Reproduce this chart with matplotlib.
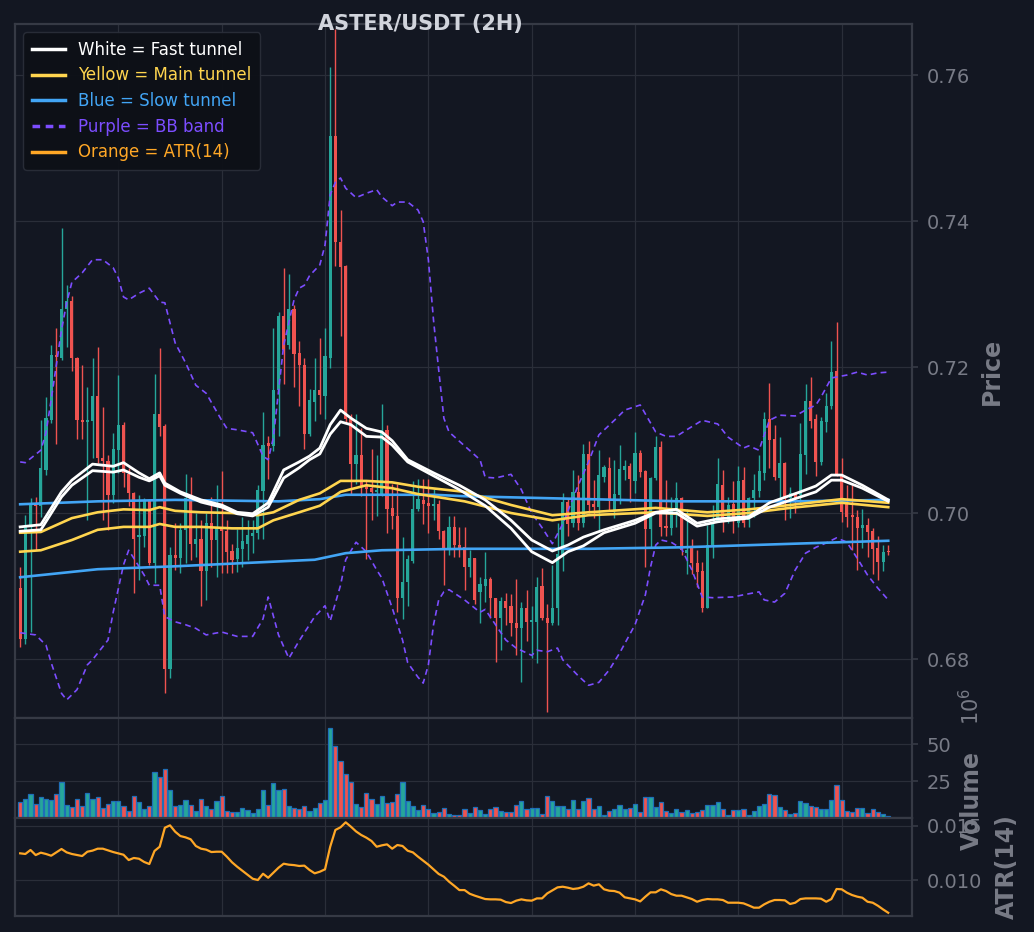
import numpy as np
import matplotlib
matplotlib.use("Agg")
import matplotlib.pyplot as plt
from matplotlib.lines import Line2D
from matplotlib.ticker import FormatStrFormatter

# ---------------- data ----------------
opens = [
0.6897,0.6828,0.6981,0.7013,0.7009,0.7059,0.7128,0.7217,0.7213,0.7279,
0.7290,0.7212,0.7128,0.7125,0.7126,0.7160,0.7075,0.7071,0.7025,0.7086,
0.7121,0.7054,0.7027,0.6967,0.6968,0.7016,0.6931,0.7136,0.7119,0.6787,
0.6943,0.6938,0.6977,0.7020,0.6958,0.6964,0.6920,0.6986,0.6963,0.6979,
0.6976,0.6948,0.6937,0.6951,0.6958,0.6969,0.6973,0.7030,0.7096,0.7092,
0.7168,0.7270,0.7230,0.7279,0.7219,0.7203,0.7108,0.7152,0.7168,0.7160,
0.7212,0.7517,0.7371,0.7338,0.7129,0.7067,0.7079,0.7037,0.7034,0.7029,
0.7026,0.7114,0.7007,0.6996,0.6884,0.6905,0.6934,0.7005,0.7018,0.7014,
0.7010,0.7012,0.6975,0.6952,0.6981,0.6956,0.6953,0.6926,0.6938,0.6892,
0.6900,0.6910,0.6884,0.6856,0.6879,0.6873,0.6849,0.6842,0.6870,0.6851,
0.6851,0.6900,0.6856,0.6849,0.6870,0.6942,0.7015,0.6986,0.7029,0.6986,
0.7081,0.7012,0.7008,0.7049,0.7062,0.7004,0.7025,0.7059,0.7064,0.7044,
0.7082,0.7058,0.6978,0.7048,0.7090,0.6982,0.6979,0.7003,0.7021,0.6945,
0.6952,0.6931,0.6921,0.6870,0.6956,0.6988,0.7038,0.6990,0.7012,0.6986,
0.7045,0.6990,0.7021,0.7030,0.7055,0.7129,0.7101,0.7048,0.7068,0.7021,
0.7027,0.7025,0.7079,0.7153,0.7129,0.7070,0.7125,0.7147,0.7195,0.7051,
0.7014,0.6997,0.6995,0.6980,0.6984,0.6975,0.6952,0.6933,0.6948]

highs = [
0.6926,0.6997,0.7020,0.7022,0.7128,0.7159,0.7230,0.7253,0.7390,0.7312,
0.7297,0.7214,0.7203,0.7173,0.7212,0.7228,0.7145,0.7080,0.7110,0.7189,
0.7125,0.7062,0.7029,0.7025,0.7021,0.7019,0.7191,0.7226,0.7122,0.6954,
0.6986,0.6986,0.7054,0.7050,0.7000,0.6990,0.7000,0.7022,0.7038,0.7057,
0.6990,0.6958,0.6978,0.6995,0.6990,0.6990,0.7038,0.7138,0.7105,0.7253,
0.7275,0.7336,0.7327,0.7285,0.7236,0.7212,0.7170,0.7212,0.7240,0.7253,
0.7611,0.7663,0.7415,0.7340,0.7135,0.7135,0.7117,0.7044,0.7088,0.7079,
0.7149,0.7121,0.7040,0.7040,0.6967,0.6943,0.7044,0.7047,0.7047,0.7047,
0.7033,0.7018,0.6977,0.6996,0.6996,0.6981,0.6981,0.6949,0.6938,0.6913,
0.6947,0.6913,0.6884,0.6885,0.6890,0.6889,0.6910,0.6878,0.6894,0.6872,
0.6913,0.6924,0.6876,0.6929,0.6986,0.7027,0.7020,0.7059,0.7052,0.7095,
0.7098,0.7045,0.7086,0.7066,0.7077,0.7073,0.7093,0.7073,0.7068,0.7111,
0.7086,0.7059,0.7050,0.7105,0.7098,0.7045,0.7022,0.7043,0.7022,0.7006,
0.6965,0.6949,0.6933,0.6984,0.7011,0.7075,0.7059,0.7022,0.7044,0.7064,
0.7063,0.7022,0.7054,0.7079,0.7139,0.7178,0.7121,0.7104,0.7070,0.7035,
0.7029,0.7123,0.7177,0.7186,0.7136,0.7132,0.7164,0.7235,0.7261,0.7075,
0.7038,0.7039,0.7004,0.7005,0.6993,0.6979,0.6968,0.6956,0.6956]

lows = [
0.6817,0.6821,0.6837,0.6949,0.6995,0.7052,0.7124,0.7095,0.7210,0.7228,
0.7194,0.7102,0.7102,0.6990,0.7075,0.7068,0.6990,0.6977,0.7014,0.7055,
0.7036,0.7009,0.6890,0.6908,0.6954,0.6929,0.6904,0.7105,0.6753,0.6774,
0.6922,0.6918,0.6931,0.6936,0.6940,0.6872,0.6881,0.6926,0.6913,0.6918,
0.6918,0.6918,0.6919,0.6926,0.6935,0.6945,0.6964,0.6964,0.7047,0.7085,
0.7105,0.7177,0.7225,0.7173,0.7147,0.7088,0.7105,0.7126,0.7135,0.7129,
0.7198,0.7338,0.7242,0.7125,0.7026,0.7040,0.7023,0.6937,0.6990,0.6996,
0.7023,0.6973,0.6978,0.6864,0.6855,0.6873,0.6931,0.7003,0.6985,0.6973,
0.6990,0.6964,0.6902,0.6943,0.6940,0.6940,0.6895,0.6913,0.6876,0.6849,
0.6878,0.6856,0.6796,0.6812,0.6847,0.6832,0.6805,0.6769,0.6824,0.6801,
0.6794,0.6853,0.6728,0.6847,0.6847,0.6920,0.6968,0.6981,0.6977,0.6981,
0.7000,0.6993,0.6974,0.7043,0.7004,0.6993,0.7013,0.7045,0.7015,0.7027,
0.7050,0.6926,0.6952,0.7045,0.6968,0.6968,0.6970,0.6981,0.6942,0.6917,
0.6917,0.6899,0.6865,0.6870,0.6938,0.6988,0.6974,0.6986,0.6972,0.6981,
0.6981,0.6981,0.6995,0.7022,0.7045,0.7061,0.7045,0.7018,0.6990,0.6993,
0.7000,0.7013,0.7054,0.7116,0.7051,0.7066,0.7111,0.7143,0.7051,0.6988,
0.6981,0.6949,0.6922,0.6952,0.6940,0.6917,0.6908,0.6920,0.6942]

closes = [
0.6828,0.6982,0.7013,0.7010,0.7061,0.7130,0.7216,0.7214,0.7279,0.7290,
0.7212,0.7127,0.7125,0.7128,0.7160,0.7075,0.7071,0.7025,0.7088,0.7121,
0.7055,0.7027,0.6965,0.6970,0.7018,0.6931,0.7136,0.7118,0.6787,0.6942,
0.6939,0.6977,0.7020,0.6958,0.6964,0.6920,0.6986,0.6963,0.6979,0.6976,
0.6947,0.6936,0.6952,0.6962,0.6970,0.6973,0.7032,0.7093,0.7092,0.7168,
0.7270,0.7223,0.7279,0.7218,0.7203,0.7108,0.7155,0.7168,0.7161,0.7215,
0.7517,0.7371,0.7337,0.7129,0.7067,0.7079,0.7037,0.7033,0.7029,0.7031,
0.7114,0.7005,0.6996,0.6884,0.6905,0.6937,0.7005,0.7019,0.7012,0.7010,
0.7013,0.6975,0.6952,0.6981,0.6956,0.6952,0.6926,0.6938,0.6881,0.6903,
0.6910,0.6884,0.6856,0.6879,0.6870,0.6849,0.6842,0.6870,0.6851,0.6853,
0.6899,0.6856,0.6849,0.6870,0.6944,0.7015,0.6985,0.7029,0.6986,0.7081,
0.7011,0.7008,0.7052,0.7063,0.7016,0.7026,0.7060,0.7064,0.7047,0.7082,
0.7056,0.6978,0.7048,0.7090,0.6981,0.6980,0.7004,0.7021,0.6949,0.6949,
0.6931,0.6919,0.6870,0.6956,0.6988,0.7040,0.6990,0.7011,0.6990,0.7044,
0.6986,0.7021,0.7032,0.7058,0.7129,0.7100,0.7049,0.7068,0.7021,0.7027,
0.7021,0.7081,0.7153,0.7126,0.7070,0.7126,0.7147,0.7193,0.7051,0.7001,
0.6995,0.6994,0.6979,0.6984,0.6974,0.6951,0.6933,0.6947,0.6947]

# volume in millions
volume_m = [
11.0,12.6,16.0,9.7,14.4,12.6,12.2,16.0,24.1,9.0,
7.7,12.6,8.3,16.7,12.6,14.4,7.0,9.7,11.3,11.3,
8.3,5.0,15.1,10.6,5.9,8.3,30.9,27.5,32.9,18.7,
8.3,9.0,11.9,9.0,4.5,12.6,8.3,6.3,11.3,15.1,
5.0,4.3,4.3,6.5,5.2,3.6,5.9,18.7,9.0,23.4,
18.7,19.4,8.3,7.0,6.3,8.3,4.5,6.5,10.4,11.9,
60.6,48.9,38.7,29.5,24.1,9.7,7.7,16.7,13.1,9.7,
15.1,10.4,11.0,16.0,24.1,11.3,8.3,5.2,9.0,5.9,
3.6,4.3,6.5,
2.7,2.3,2.3,6.1,3.4,7.2,5.4,2.7,6.1,7.2,
5.0,4.1,4.1,8.6,11.7,6.1,6.8,6.8,2.7,14.9,
11.7,8.1,8.1,6.1,12.4,6.1,11.7,13.5,6.1,8.1,
2.3,4.5,6.1,9.0,6.1,6.8,9.5,3.8,14.4,14.4,
7.7,11.0,5.0,3.4,6.1,3.8,5.4,3.2,4.3,5.4,
8.8,8.8,10.8,6.1,2.0,5.6,5.6,6.1,2.0,5.0,
8.1,9.5,16.2,15.5,7.7,5.4,2.7,3.2,11.7,10.1,
8.1,7.2,6.1,6.1,12.4,22.3,12.4,5.0,3.8,6.8,
6.8,3.4,6.1,4.1,2.7,1.2]

atr14 = [
0.01247,0.01241,0.01278,0.01231,0.01253,0.01241,0.01225,0.01256,0.01287,0.01256,
0.01241,0.01231,0.01222,0.01262,0.01272,0.01290,0.01290,0.01275,0.01259,0.01247,
0.01234,0.01185,0.01204,0.01197,0.01167,0.01148,0.01269,0.01308,0.01484,0.01506,
0.01447,0.01407,0.01395,0.01377,0.01315,0.01290,0.01281,0.01259,0.01262,0.01262,
0.01216,0.01164,0.01123,0.01086,0.01049,0.01012,0.01000,0.01058,0.01021,0.01068,
0.01114,0.01151,0.01142,0.01138,0.01130,0.01133,0.01093,0.01062,0.01077,0.01099,
0.01308,0.01463,0.01488,0.01534,0.01494,0.01450,0.01417,0.01392,0.01361,0.01308,
0.01321,0.01330,0.01290,0.01324,0.01315,0.01271,0.01256,0.01216,0.01179,0.01142,
0.01099,0.01056,0.01031,0.00985,
0.00947,0.00907,0.00907,0.00873,0.00855,0.00840,0.00824,0.00821,0.00821,0.00818,
0.00796,0.00787,0.00809,0.00821,0.00812,0.00809,0.00830,0.00830,0.00876,0.00904,
0.00932,0.00938,0.00929,0.00917,0.00923,0.00938,0.00969,0.00948,0.00960,0.00914,
0.00901,0.00898,0.00883,0.00840,0.00830,0.00821,0.00802,0.00846,0.00886,0.00886,
0.00914,0.00898,0.00870,0.00855,0.00855,0.00840,0.00824,0.00799,0.00815,0.00824,
0.00821,0.00821,0.00815,0.00790,0.00790,0.00790,0.00784,0.00765,0.00744,0.00744,
0.00775,0.00799,0.00815,0.00815,0.00812,0.00778,0.00790,0.00824,0.00830,0.00830,
0.00830,0.00827,0.00799,0.00824,0.00917,0.00914,0.00883,0.00861,0.00846,0.00836,
0.00799,0.00790,0.00762,0.00728,0.00697]

# tunnels (candle index, value)
white_idx = [0,4,8,10,14,18,20,23,25,27,28,31,35,39,42,45,48,51,54,56,58,60,62,64,67,70,72,75,80,85,
             90,95,99,103,106,109,113,119,123,127,131,135,141,145,151,154,157,159,163,168]
white_up = [0.6981,0.6984,0.7029,0.7045,0.7067,0.7064,0.7069,0.7055,0.7047,0.7055,
            0.7041,0.7029,0.7018,0.7011,0.7001,0.6999,0.7014,0.7059,0.7070,0.7078,
            0.7089,0.7121,0.7141,0.7130,0.7116,0.7111,0.7099,0.7073,0.7055,0.7038,
            0.7018,0.6990,0.6963,0.6948,0.6956,0.6967,0.6977,0.6990,0.7001,0.7005,
            0.6986,0.6992,0.6995,0.7014,0.7029,0.7037,0.7052,0.7052,0.7038,0.7018]
white_lo = [0.6975,0.6977,0.7022,0.7038,0.7058,0.7056,0.7059,0.7049,0.7044,0.7051,
            0.7038,0.7027,0.7015,0.7008,0.6999,0.6996,0.7008,0.7048,0.7062,0.7073,
            0.7081,0.7108,0.7125,0.7121,0.7105,0.7104,0.7093,0.7070,0.7051,0.7032,
            0.7010,0.6979,0.6947,0.6932,0.6947,0.6955,0.6973,0.6986,0.7000,0.7000,
            0.6982,0.6988,0.6993,0.7008,0.7022,0.7029,0.7045,0.7045,0.7034,0.7016]

yel_idx = [0,4,10,15,20,25,27,30,35,41,46,49,54,58,62,67,72,77,86,95,103,110,123,133,141,149,159,168]
yel_up = [0.6973,0.6974,0.6993,0.7001,0.7005,0.7004,0.7008,0.7003,0.7001,0.7000,
          0.6997,0.7001,0.7018,0.7027,0.7044,0.7044,0.7042,0.7036,0.7029,0.7011,
          0.6997,0.7001,0.7007,0.7001,0.7005,0.7011,0.7019,0.7014]
yel_lo = [0.6947,0.6949,0.6963,0.6977,0.6981,0.6981,0.6985,0.6981,0.6981,0.6979,
          0.6979,0.6990,0.7001,0.7010,0.7029,0.7038,0.7034,0.7026,0.7016,0.7000,
          0.6990,0.6997,0.7001,0.6996,0.7000,0.7007,0.7014,0.7008]

blue_up_idx = [0,15,30,50,58,63,80,86,110,128,150,168]
blue_up = [0.7012,0.7016,0.7018,0.7016,0.7019,0.7025,0.7025,0.7023,0.7019,0.7016,0.7016,0.7018]
blue_lo_idx = [0,15,30,45,57,63,70,86,110,128,150,168]
blue_lo = [0.6912,0.6923,0.6927,0.6932,0.6936,0.6945,0.6949,0.6951,0.6951,0.6953,0.6958,0.6962]

bbu_idx = [0,1,4,5,6,7,8,9,10,12,14,16,18,19,20,21,23,25,27,28,30,32,34,36,39,40,42,45,47,48,
           49,50,51,53,54,55,56,58,59,60,61,62,63,65,67,69,70,72,73,75,77,78,79,80,81,82,83,86,89,90,
           92,95,97,99,101,103,105,108,110,112,115,117,120,123,125,127,129,132,135,137,
           140,141,143,144,145,147,150,152,154,155,157,160,162,164,166,168]
bb_upper = [0.7070,0.7069,0.7086,0.7110,0.7155,0.7203,0.7251,0.7288,0.7316,0.7329,
            0.7347,0.7347,0.7336,0.7322,0.7296,0.7292,0.7301,0.7308,0.7289,0.7288,
            0.7233,0.7206,0.7175,0.7164,0.7127,0.7116,0.7114,0.7110,0.7078,0.7073,
            0.7103,0.7167,0.7230,0.7292,0.7308,0.7312,0.7325,0.7340,0.7367,0.7436,
            0.7453,0.7459,0.7445,0.7432,0.7438,0.7443,0.7433,0.7421,0.7426,0.7426,
            0.7415,0.7399,0.7347,0.7264,0.7196,0.7130,0.7111,0.7092,0.7073,0.7049,
            0.7048,0.7053,0.7032,0.7000,0.6980,0.6958,0.6985,0.7038,0.7070,0.7107,
            0.7127,0.7141,0.7148,0.7111,0.7105,0.7105,0.7114,0.7127,0.7122,0.7104,
            0.7089,0.7092,0.7086,0.7107,0.7127,0.7134,0.7133,0.7141,0.7148,0.7159,
            0.7185,0.7189,0.7193,0.7189,0.7192,0.7193]

bbl_idx = [0,3,5,6,8,9,11,13,14,17,18,20,21,22,24,25,27,28,30,32,34,36,39,42,45,47,48,50,52,54,
           57,59,60,62,63,65,67,69,70,72,74,75,77,78,79,80,81,82,83,86,89,90,92,94,96,99,100,102,104,105,
           108,110,112,114,116,119,121,122,123,124,126,128,130,132,134,138,140,143,144,146,
           148,150,152,154,156,158,160,162,164,166,168]
bb_lower = [0.6836,0.6833,0.6819,0.6795,0.6753,0.6744,0.6758,0.6792,0.6799,0.6826,
            0.6864,0.6929,0.6949,0.6938,0.6915,0.6901,0.6901,0.6858,0.6851,0.6847,
            0.6842,0.6833,0.6837,0.6831,0.6831,0.6855,0.6885,0.6833,0.6801,0.6825,
            0.6858,0.6873,0.6852,0.6901,0.6936,0.6960,0.6947,0.6922,0.6911,0.6870,
            0.6826,0.6795,0.6775,0.6767,0.6792,0.6847,0.6881,0.6892,0.6895,0.6881,
            0.6864,0.6868,0.6847,0.6826,0.6815,0.6805,0.6812,0.6810,0.6815,0.6799,
            0.6777,0.6764,0.6768,0.6785,0.6808,0.6847,0.6888,0.6926,0.6956,0.6963,
            0.6960,0.6951,0.6922,0.6885,0.6884,0.6885,0.6888,0.6892,0.6881,0.6878,
            0.6890,0.6922,0.6945,0.6953,0.6959,0.6966,0.6960,0.6938,0.6915,0.6897,
            0.6881]

price_ticks = [0.68, 0.70, 0.72, 0.74, 0.76]
volume_ticks = [25, 50]
atr_ticks = [0.010, 0.015]
x_ticks = [20, 40, 60, 80, 100, 120, 140, 160]

legend_labels = ["White = Fast tunnel", "Yellow = Main tunnel", "Blue = Slow tunnel",
                 "Purple = BB band", "Orange = ATR(14)"]
title = "ASTER/USDT (2H)"

# ---------------- style ----------------
BG = "#131722"
GRID = "#2a2e39"
SPINE = "#363a45"
TXT = "#787b86"
UPC = "#26a69a"
DNC = "#ef5350"
C_WHITE = "#ffffff"
C_YEL = "#ffd54f"
C_BLUE = "#42a5f5"
C_PURP = "#7c4dff"
C_ORNG = "#ffa726"

o = np.array(opens); h = np.array(highs); l = np.array(lows); c = np.array(closes)
n = len(o)
x = np.arange(1, n + 1)
cols = np.where(c >= o, UPC, DNC)

fig = plt.figure(figsize=(10.34, 9.32), dpi=100, facecolor=BG)
W, H = 1034.0, 932.0
ax = fig.add_axes([15 / W, 214 / H, 897 / W, 694 / H])
axv = fig.add_axes([15 / W, 114 / H, 897 / W, 100 / H], sharex=ax)
axa = fig.add_axes([15 / W, 16 / H, 897 / W, 98 / H], sharex=ax)

for a in (ax, axv, axa):
    a.set_facecolor(BG)
    a.set_axisbelow(True)
    a.grid(True, color=GRID, linewidth=0.9)
    for s in a.spines.values():
        s.set_color(SPINE)
        s.set_linewidth(1.6)
    a.yaxis.tick_right()
    a.yaxis.set_label_position("right")
    a.tick_params(axis="y", colors=SPINE, labelcolor=TXT, labelsize=14,
                  length=4.5, width=1.2, pad=6)
    a.tick_params(axis="x", length=0, labelbottom=False)
    a.set_xticks(x_ticks)

# candles
ax.vlines(x, l, h, colors=cols, linewidth=1.0, zorder=2)
ax.bar(x, np.maximum(np.abs(c - o), 0.00007), bottom=np.minimum(o, c), width=0.6,
       color=cols, linewidth=0, zorder=3)

# bands and tunnels
ax.plot(np.array(bbu_idx) + 1, bb_upper, color=C_PURP, lw=1.2, dashes=(3.5, 2.5), zorder=4)
ax.plot(np.array(bbl_idx) + 1, bb_lower, color=C_PURP, lw=1.2, dashes=(3.5, 2.5), zorder=4)
ax.plot(np.array(blue_up_idx) + 1, blue_up, color=C_BLUE, lw=1.9, zorder=5)
ax.plot(np.array(blue_lo_idx) + 1, blue_lo, color=C_BLUE, lw=1.9, zorder=5)
ax.plot(np.array(yel_idx) + 1, yel_up, color=C_YEL, lw=1.9, zorder=6)
ax.plot(np.array(yel_idx) + 1, yel_lo, color=C_YEL, lw=1.9, zorder=6)
ax.plot(np.array(white_idx) + 1, white_up, color=C_WHITE, lw=2.0, zorder=7)
ax.plot(np.array(white_idx) + 1, white_lo, color=C_WHITE, lw=2.0, zorder=7)

ax.set_xlim(0, 173.6)
ax.set_ylim(0.67192, 0.76699)
ax.set_yticks(price_ticks)
ax.yaxis.set_major_formatter(FormatStrFormatter("%.2f"))
ax.set_ylabel("Price", color=TXT, fontsize=17, fontweight="bold", labelpad=7)

# volume
axv.bar(x, volume_m, width=0.8, color=cols, edgecolor="#1f6fb8", linewidth=0.9, zorder=3)
axv.set_ylim(0, 67.6)
axv.set_yticks(volume_ticks)
axv.yaxis.set_major_formatter(FormatStrFormatter("%d"))
axv.set_ylabel("Volume", color=TXT, fontsize=17, fontweight="bold", labelpad=6)
axv.yaxis.label.set_y(0.18)
fig.text(971 / W, 1 - 706 / H, r"$10^{6}$", rotation=90, ha="center", va="center",
         fontsize=15, color=TXT)

# ATR
axa.plot(x, atr14, color=C_ORNG, lw=1.6, zorder=4)
axa.set_ylim(0.00667, 0.01574)
axa.set_yticks(atr_ticks)
axa.yaxis.set_major_formatter(FormatStrFormatter("%.3f"))
axa.set_ylabel("ATR(14)", color=TXT, fontsize=17, fontweight="bold", labelpad=9)

# legend
handles = [Line2D([], [], color=C_WHITE, lw=2.5),
           Line2D([], [], color=C_YEL, lw=2.5),
           Line2D([], [], color=C_BLUE, lw=2.5),
           Line2D([], [], color=C_PURP, lw=2.5, dashes=(2.2, 1.6)),
           Line2D([], [], color=C_ORNG, lw=2.5)]
leg = ax.legend(handles, legend_labels, loc="upper left", fontsize=12,
                facecolor="#0d1017", edgecolor=GRID, framealpha=0.95,
                labelspacing=0.46, handlelength=2.0, borderpad=0.5)
for t, col in zip(leg.get_texts(), [C_WHITE, C_YEL, C_BLUE, C_PURP, C_ORNG]):
    t.set_color(col)
leg.set_zorder(20)

fig.text(420 / W, 1 - 24 / H, title, ha="center", va="center", fontsize=15,
         fontweight="bold", color="#d1d4dc")

fig.savefig("out.png", dpi=100, facecolor=BG)
